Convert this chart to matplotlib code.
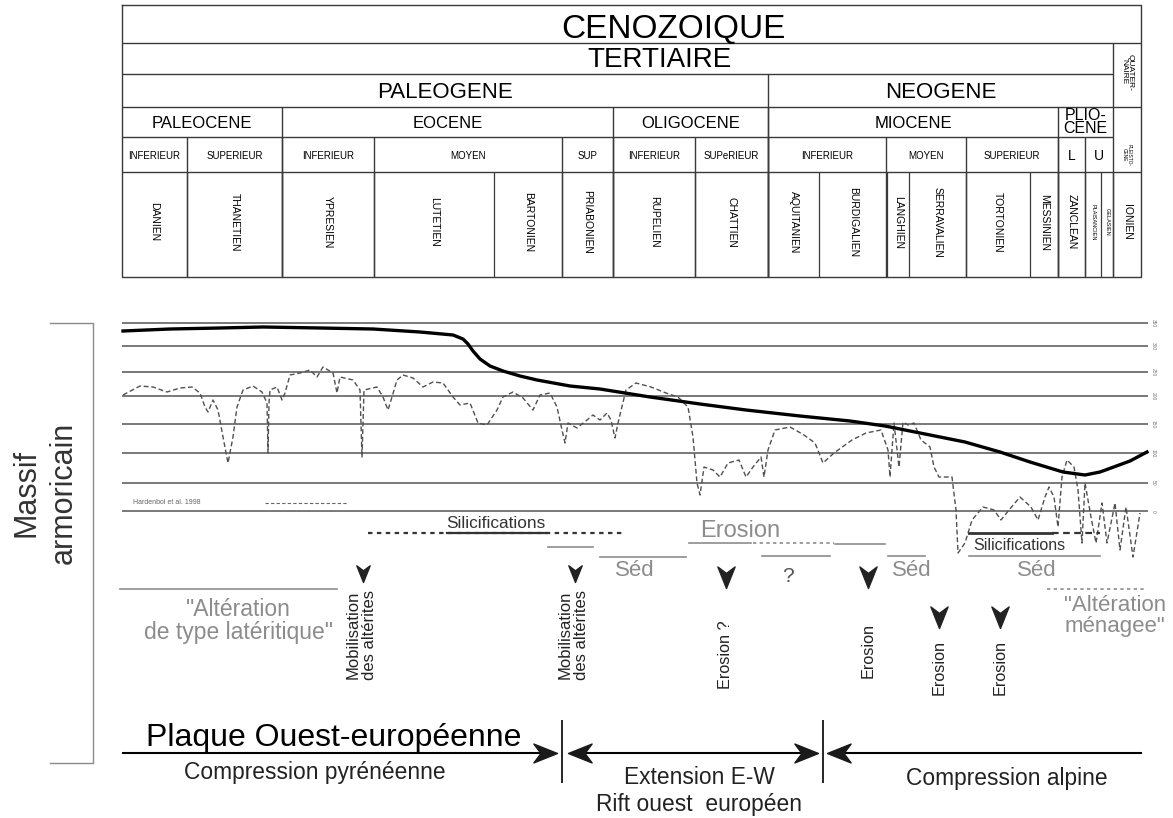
import matplotlib.pyplot as plt
from matplotlib.path import Path

plt.rcParams['font.family'] = ['Liberation Sans', 'DejaVu Sans']

# Echelle des temps : limites des colonnes (repere de la figure, en px)
stage_names = ['DANIEN', 'THANETIEN', 'YPRESIEN', 'LUTETIEN', 'BARTONIEN', 'PRIABONIEN',
               'RUPELIEN', 'CHATTIEN', 'AQUITANIEN', 'BURDIGALIEN', 'LANGHIEN', 'SERRAVALIEN',
               'TORTONIEN', 'MESSINIEN', 'ZANCLEAN', 'PLAISANCIEN', 'GELASIEN', 'IONIEN']
stage_edges = [122, 187, 282, 374, 494, 562, 613, 695, 768, 819, 887, 909, 966, 1030,
               1058, 1085, 1101, 1113, 1141]

sub_names = ['INFERIEUR', 'SUPERIEUR', 'INFERIEUR', 'MOYEN', 'SUP', 'INFERIEUR', 'SUPeRIEUR',
             'INFERIEUR', 'MOYEN', 'SUPERIEUR', 'L', 'U']
sub_edges = [122, 187, 282, 374, 562, 613, 695, 768, 886, 966, 1058, 1085, 1113]

epoch_names = ['PALEOCENE', 'EOCENE', 'OLIGOCENE', 'MIOCENE', 'PLIO-\nCENE']
epoch_edges = [122, 282, 613, 768, 1058, 1113]

period_names = ['PALEOGENE', 'NEOGENE']
period_edges = [122, 768, 1113]

# lignes horizontales du graphe et graduations
levels = [323, 346, 372, 396, 424, 453, 483, 511]
level_labels = ['350', '300', '250', '200', '150', '100', '50', '0']

# courbe en trait plein (altitude du massif)
relief_x = [123, 170, 220, 263, 320, 373, 420, 453, 463, 468, 473, 480, 490, 503, 520, 537,
            570, 600, 650, 700, 746, 800, 850, 885, 920, 965, 1000, 1030, 1063, 1085, 1100,
            1111, 1130, 1147]
relief_y = [331, 329, 328, 327, 328, 329, 332, 335, 339, 344, 351, 359, 366, 371, 376, 380,
            386, 389, 397, 404, 410, 416, 421, 426, 433, 442, 452, 462, 472, 475, 472,
            468, 461, 452]

# courbe eustatique (Hardenbol et al. 1998), tiretes
sea_x = [123, 140, 153, 167, 180, 192, 200, 205, 208, 213, 218, 223, 228, 233, 237, 243, 253,
         262, 267, 268, 269, 270, 277, 282, 285, 290, 300, 310, 317, 323, 333, 337, 340, 353,
         360, 362, 364, 377, 383, 388, 392, 397, 403, 413, 423, 433, 443, 453, 460, 470, 478,
         487, 497, 503, 513, 523, 533, 540, 550, 557, 562, 565, 568, 577, 587, 593, 600, 607,
         611, 615, 618, 626, 636, 651, 666, 678, 688, 693, 697, 700, 704, 713, 720, 728, 739,
         746, 753, 761, 764, 768, 775, 790, 804, 815, 823, 834, 852, 866, 881, 888, 890, 894,
         899, 903, 908, 914, 921, 930, 934, 939, 952, 956, 958, 965, 972, 983, 994, 1001, 1009,
         1020, 1031, 1038, 1045, 1049, 1054, 1058, 1062, 1067, 1074, 1078, 1082, 1085, 1091,
         1096, 1102, 1107, 1115, 1120, 1126, 1133, 1140]
sea_y = [395, 386, 387, 392, 388, 387, 393, 407, 412, 400, 410, 437, 463, 437, 407, 390, 386,
         392, 403, 453, 403, 390, 387, 400, 393, 375, 373, 370, 377, 367, 373, 393, 377, 380,
         390, 457, 390, 387, 397, 410, 397, 380, 375, 378, 387, 382, 383, 397, 405, 403, 423,
         425, 410, 397, 392, 398, 410, 395, 393, 407, 430, 443, 423, 428, 420, 415, 420, 413,
         420, 438, 423, 390, 383, 387, 393, 397, 407, 437, 483, 495, 467, 470, 477, 463, 460,
         477, 467, 457, 477, 450, 430, 427, 435, 443, 463, 453, 440, 433, 430, 450, 477, 423,
         467, 422, 425, 423, 440, 447, 467, 477, 477, 510, 553, 543, 520, 507, 510, 520, 510,
         497, 507, 520, 497, 487, 497, 527, 477, 460, 467, 490, 543, 483, 517,
         543, 503, 543, 503, 550, 507, 557, 513]

# evenements (fleches noires)
mob_x = [363, 575]
mob_y = [582, 582]
ero_x = [726, 868, 939, 1000]
ero_y = [588, 588, 628, 628]

# tectonique : pointes de fleches
tect_right = [557, 818]
tect_left = [568, 827]
tect_y = 753

fig = plt.figure(figsize=(11.73, 8.18), dpi=100)
ax = fig.add_axes([0, 0, 1, 1])
ax.set_xlim(0, 1173)
ax.set_ylim(818, 0)
ax.axis('off')

tc = '#3a3a3a'
# ---------- tableau stratigraphique ----------
L, R, Q = 122, 1141, 1113
ax.plot([L, R, R, L, L], [5, 5, 277, 277, 5], color=tc, lw=1)
ax.hlines([43, 107, 172], L, R, color=tc, lw=1)
ax.hlines([74, 137], L, Q, color=tc, lw=1)
ax.vlines(Q, 43, 277, color=tc, lw=1)
ax.vlines(period_edges[1:-1], 74, 277, color=tc, lw=1)
ax.vlines(epoch_edges[1:-1], 107, 277, color=tc, lw=1)
ax.vlines(sub_edges[1:-1], 137, 277, color=tc, lw=1)
ax.vlines(stage_edges[1:-1], 172, 277, color=tc, lw=0.9)

ax.text(673, 29, 'CENOZOIQUE', ha='center', va='center', fontsize=24)
ax.text(660, 60, 'TERTIAIRE', ha='center', va='center', fontsize=20)
ax.text(1127, 72, 'QUATER-\nNAIRE', ha='center', va='center', rotation=270,
        fontsize=6, linespacing=0.9)
for i, name in enumerate(period_names):
    ax.text((period_edges[i] + period_edges[i + 1]) / 2, 92, name,
            ha='center', va='center', fontsize=16)
for i, name in enumerate(epoch_names):
    small = '\n' in name
    ax.text((epoch_edges[i] + epoch_edges[i + 1]) / 2, 122 if small else 124, name,
            ha='center', va='center', fontsize=11.5 if small else 12, linespacing=0.85)
ax.text(1127, 155, 'PLEISTO-\nCENE', ha='center', va='center', rotation=270,
        fontsize=3.5, linespacing=0.9)
for i, name in enumerate(sub_names):
    fs = 10 if len(name) == 1 else 7
    ax.text((sub_edges[i] + sub_edges[i + 1]) / 2, 156, name,
            ha='center', va='center', fontsize=fs)
for i, name in enumerate(stage_names):
    w = stage_edges[i + 1] - stage_edges[i]
    fs = 4 if w < 20 else 7.5
    ax.text((stage_edges[i] + stage_edges[i + 1]) / 2, 222, name,
            ha='center', va='center', rotation=270, fontsize=fs)

# ---------- graphe ----------
ax.hlines(levels, 122, 1148, color='#555555', lw=1.1)
for y, lab in zip(levels, level_labels):
    ax.text(1153, y, lab, ha='center', va='center', rotation=270, fontsize=3.5, color='#777777')

ax.plot(sea_x, sea_y, color='#505050', lw=1, linestyle=(0, (3.5, 2)))
ax.plot(relief_x, relief_y, color='black', lw=2.4)

ax.text(133, 503, 'Hardenbol et al. 1998', fontsize=5, color='#666666', va='center')
ax.plot([265, 347], [503, 503], color='#666666', lw=0.8, linestyle=(0, (3, 2)))

# Massif armoricain
ax.text(45, 493, 'Massif\narmoricain', rotation=90, ha='center', va='center',
        fontsize=22, color='#333333', linespacing=1.3)
ax.plot([50, 93, 93, 50], [323, 323, 763, 763], color='#8a8a8a', lw=1)

# ---------- annotations ----------
grey = '#8c8c8c'
dark = '#333333'
ax.plot([368, 625], [533, 533], color=dark, lw=1.6, linestyle=(0, (2, 2)))
ax.plot([447, 547], [533, 533], color=dark, lw=1.6)
ax.text(496, 523, 'Silicifications', ha='center', va='center', fontsize=12.4, color=dark)

ax.plot([548, 593], [547, 547], color=grey, lw=1.2)
ax.plot([600, 686], [557, 557], color=grey, lw=1.2)
ax.plot([689, 751], [543, 543], color=grey, lw=1.2)
ax.plot([753, 834], [543, 543], color=grey, lw=1.2, linestyle=(0, (2, 2)))
ax.plot([835, 885], [544, 544], color=grey, lw=1.2)
ax.plot([762, 830], [556, 556], color=grey, lw=1.2)
ax.plot([888, 925], [556, 556], color=grey, lw=1.2)
ax.text(740, 531, 'Erosion', ha='center', va='center', fontsize=17, color=grey)

ax.plot([969, 1052], [533, 533], color=dark, lw=2)
ax.plot([1052, 1100], [533, 533], color=dark, lw=1.6, linestyle=(0, (3, 2)))
ax.plot([969, 1100], [556, 556], color=grey, lw=1.2)
ax.text(1019, 545, 'Silicifications', ha='center', va='center', fontsize=11.5, color=dark)

for sx in [635, 912, 1037]:
    ax.text(sx, 571, 'Séd', ha='center', va='center', fontsize=16, color=grey)
ax.text(788, 577, '?', ha='center', va='center', fontsize=15, color='#555555')

ax.plot([120, 337], [589, 589], color=grey, lw=1.2)
ax.text(238, 621, '"Altération\nde type latéritique"', ha='center', va='center',
        fontsize=16.5, color=grey, linespacing=1.05)
ax.plot([1047, 1147], [589, 589], color=grey, lw=1.2, linestyle=(0, (2, 2)))
ax.text(1115, 616, '"Altération\nménagee"', ha='center', va='center',
        fontsize=16, color=grey, linespacing=1.05)

down = Path([(0, 0), (-0.4, 1), (0, 0.7), (0.4, 1), (0, 0)],
            [Path.MOVETO, Path.LINETO, Path.LINETO, Path.LINETO, Path.CLOSEPOLY])
ax.plot(mob_x, mob_y, linestyle='none', marker=down, markersize=24, color='#222222')
ax.plot(ero_x, ero_y, linestyle='none', marker=down, markersize=31, color='#222222')

for mx in mob_x:
    ax.text(mx - 2, 590, 'Mobilisation\ndes altérites', rotation=90, ha='center', va='top',
            fontsize=12, color='#222222', linespacing=1.1)
ax.text(726, 620, 'Erosion ?', rotation=90, ha='center', va='top', fontsize=11.7, color='#222222')
ax.text(868, 623, 'Erosion', rotation=90, ha='center', va='top', fontsize=11.7, color='#222222')
ax.text(939, 640, 'Erosion', rotation=90, ha='center', va='top', fontsize=11.7, color='#222222')
ax.text(1000, 640, 'Erosion', rotation=90, ha='center', va='top', fontsize=11.7, color='#222222')

# ---------- tectonique ----------
right = Path([(0, 0), (-1, 0.4), (-0.7, 0), (-1, -0.4), (0, 0)],
             [Path.MOVETO, Path.LINETO, Path.LINETO, Path.LINETO, Path.CLOSEPOLY])
left = Path([(0, 0), (1, 0.4), (0.7, 0), (1, -0.4), (0, 0)],
            [Path.MOVETO, Path.LINETO, Path.LINETO, Path.LINETO, Path.CLOSEPOLY])
ax.plot([123, 545], [tect_y, tect_y], color='black', lw=1.5)
ax.plot([580, 805], [tect_y, tect_y], color='black', lw=1.5)
ax.plot([840, 1141], [tect_y, tect_y], color='black', lw=1.5)
ax.plot(tect_right, [tect_y] * 2, linestyle='none', marker=right, markersize=34, color='#1a1a1a')
ax.plot(tect_left, [tect_y] * 2, linestyle='none', marker=left, markersize=34, color='#1a1a1a')
ax.vlines([562, 823], 720, 783, color='black', lw=1.2)

ax.text(334, 738, 'Plaque Ouest-européenne', ha='center', va='center', fontsize=23)
ax.text(315, 772, 'Compression pyrénéenne', ha='center', va='center', fontsize=16.4, color='#222222')
ax.text(699, 777, 'Extension E-W', ha='center', va='center', fontsize=16.4, color='#222222')
ax.text(699, 805, 'Rift ouest  européen', ha='center', va='center', fontsize=16.4, color='#222222')
ax.text(1007, 778, 'Compression alpine', ha='center', va='center', fontsize=16.4, color='#222222')

fig.savefig('out.png', dpi=100)
